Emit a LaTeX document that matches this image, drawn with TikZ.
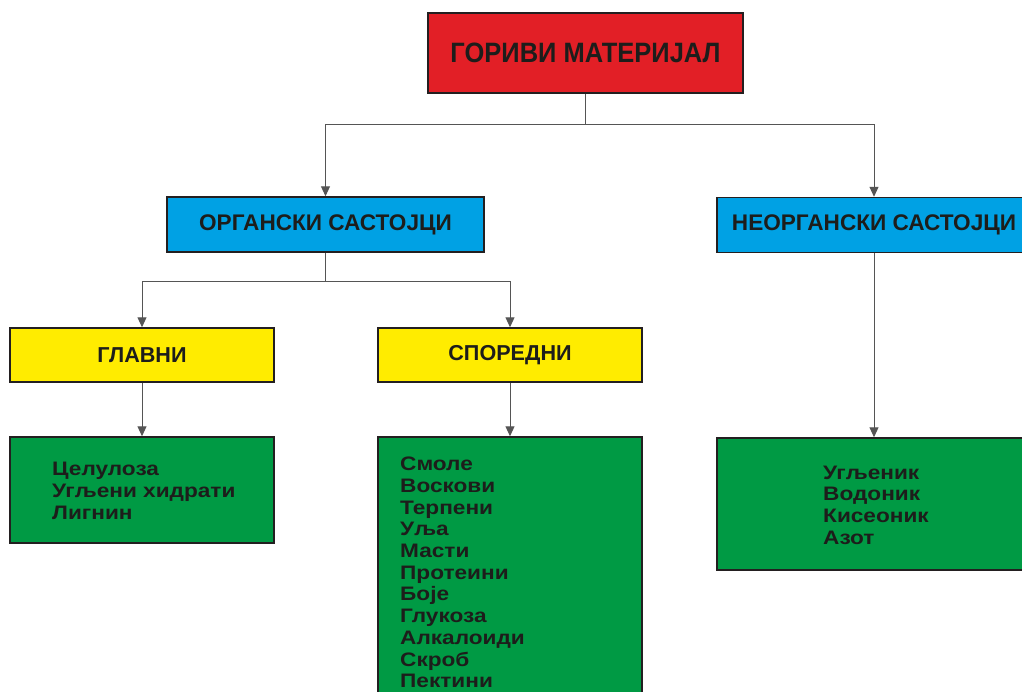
\documentclass[tikz,border=0pt]{standalone}
\usepackage{fontspec}
\setmainfont{Liberation Sans}
\newfontfamily\headfont[FakeStretch=0.91]{Liberation Sans}
\newfontfamily\listfont[FakeStretch=1.16]{Liberation Sans}
\usetikzlibrary{arrows.meta}
\definecolor{cred}{HTML}{E21F26}
\definecolor{cblue}{HTML}{00A1E4}
\definecolor{cyellow}{HTML}{FFEC00}
\definecolor{cgreen}{HTML}{009A44}
\definecolor{cborder}{HTML}{231F20}
\definecolor{ctext}{HTML}{1D1D1B}
\definecolor{cline}{HTML}{555555}
\tikzset{
  box/.style={draw=cborder, line width=1.5pt, inner sep=0pt, text=ctext, font=\bfseries},
  conn/.style={draw=cline, line width=1pt},
  arr/.style={conn, -{Triangle[width=9pt,length=10pt]}},
  list/.style={anchor=base west, inner sep=0pt, text=ctext, font=\listfont\fontsize{19.5}{21.7}\selectfont\bfseries}
}
\newcommand{\stacklines}[1]{\vtop{\baselineskip=21.7pt\lineskiplimit=-10pt #1}}
\begin{document}
\begin{tikzpicture}[x=1pt,y=-1pt]
\useasboundingbox (0,0) rectangle (1022,691);
\clip (0,0) rectangle (1022,691);
\fill[white] (0,0) rectangle (1022,691);
% boxes
\node[box, fill=cred, minimum width=315pt, minimum height=80pt, font=\headfont\fontsize{28}{32}\selectfont\bfseries] (red) at (585.5,53) {ГОРИВИ МАТЕРИЈАЛ};
\node[box, fill=cblue, minimum width=317pt, minimum height=55pt, font=\fontsize{22.6}{26}\selectfont\bfseries] (blue1) at (325.5,224.5) {ОРГАНСКИ САСТОЈЦИ};
\node[box, fill=cblue, minimum width=314pt, minimum height=55pt, font=\fontsize{22.6}{26}\selectfont\bfseries] (blue2) at (874,225) {НЕОРГАНСКИ САСТОЈЦИ};
\node[box, fill=cyellow, minimum width=264pt, minimum height=54pt, font=\fontsize{21.6}{25}\selectfont\bfseries] (yel1) at (142,355) {ГЛАВНИ};
\node[box, fill=cyellow, minimum width=264pt, minimum height=54pt, font=\fontsize{21.6}{25}\selectfont\bfseries] (yel2) at (510,355) {СПОРЕДНИ};
\node[box, fill=cgreen, minimum width=264pt, minimum height=106pt] (gr1) at (142,490) {};
\node[box, fill=cgreen, minimum width=264pt, minimum height=283pt] (gr2) at (510,578.5) {};
\node[box, fill=cgreen, minimum width=314pt, minimum height=132pt] (gr3) at (874,504) {};
% lists
\node[list] (t1) at (52,475.7) {\stacklines{\hbox{Целулоза}\hbox{Угљени хидрати}\hbox{Лигнин}}};
\node[list] (t2) at (400,470.7) {\stacklines{\hbox{Смоле}\hbox{Воскови}\hbox{Терпени}\hbox{Уља}\hbox{Масти}\hbox{Протеини}\hbox{Боје}\hbox{Глукоза}\hbox{Алкалоиди}\hbox{Скроб}\hbox{Пектини}}};
\node[list] (t3) at (823,479) {\stacklines{\hbox{Угљеник}\hbox{Водоник}\hbox{Кисеоник}\hbox{Азот}}};
% connectors
\coordinate (j1) at (585.5,124);
\coordinate (j2) at (325.5,281);
\draw[conn] (red.south) -- (j1);
\draw[arr] (j1) -| (blue1.north);
\draw[arr] (j1) -| (blue2.north);
\draw[conn] (blue1.south) -- (j2);
\draw[arr] (j2) -| (yel1.north);
\draw[arr] (j2) -| (yel2.north);
\draw[arr] (yel1.south) -- (gr1.north);
\draw[arr] (yel2.south) -- (gr2.north);
\draw[arr] (blue2.south) -- (gr3.north);
\end{tikzpicture}
\end{document}
